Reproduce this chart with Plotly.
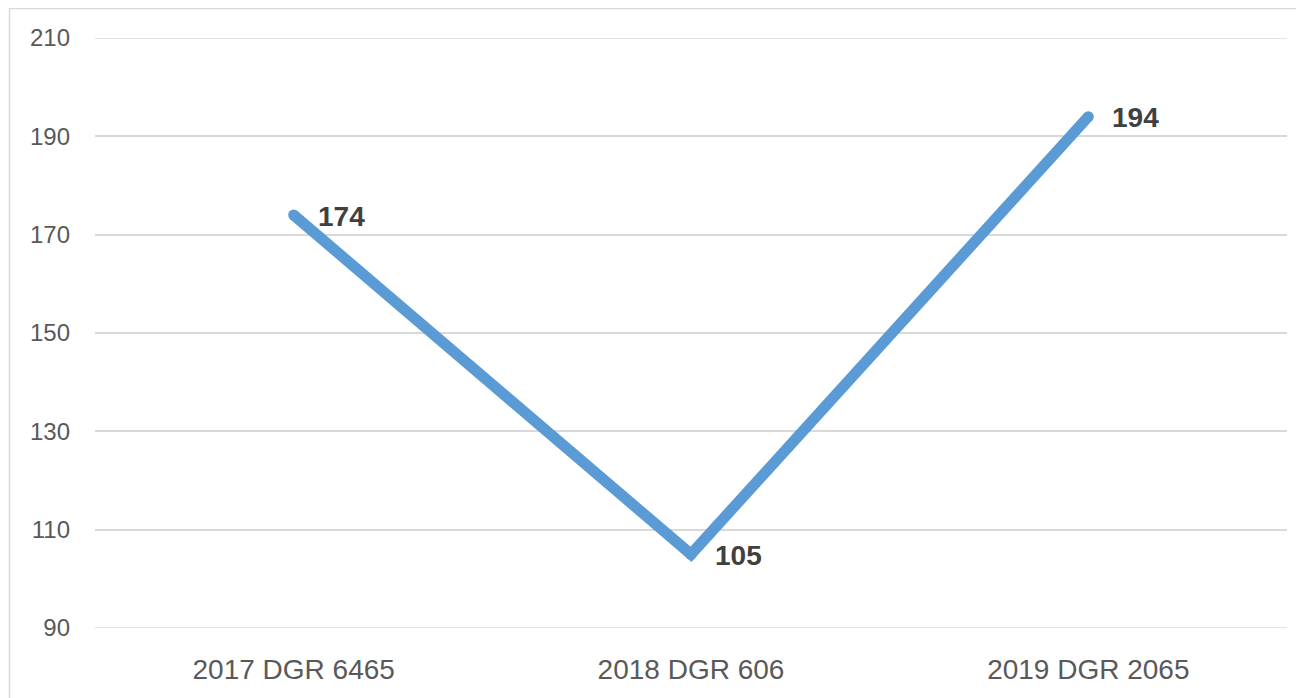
import plotly.graph_objects as go

categories = ["2017 DGR 6465", "2018 DGR 606", "2019 DGR 2065"]
values = [174, 105, 194]
y_ticks = [90, 110, 130, 150, 170, 190, 210]

LINE_COLOR = "#5B9BD5"
GRID = "#D9D9D9"
FONT = "Liberation Sans"

fig = go.Figure()
fig.add_trace(go.Scatter(
    x=categories, y=values, mode="lines+markers",
    line=dict(color=LINE_COLOR, width=11),
    marker=dict(color=LINE_COLOR, size=11),
    hoverinfo="skip", showlegend=False,
))

for c, v in zip(categories, values):
    fig.add_annotation(
        x=c, y=v, text=f"<b>{v}</b>", showarrow=False,
        xanchor="left", yanchor="middle", xshift=22, yshift=-1,
        font=dict(family=FONT, size=28, color="#404040"),
    )

# page has an 8px body margin, so the figure is slightly smaller
W, H = 1296, 690
L, R, T, B = 87, 17, 30, 70
pw, ph = W - L - R, H - T - B
fig.add_shape(
    type="rect", xref="paper", yref="paper",
    x0=(1.5 - L) / pw, x1=1.2, y0=-0.3, y1=(H - B - 0.5) / ph,
    line=dict(color=GRID, width=1.5), fillcolor="rgba(0,0,0,0)", layer="below",
)
# gridlines at the ends of the range (plotly skips them at the edges)
for yv in (y_ticks[0], y_ticks[-1]):
    fig.add_shape(
        type="line", xref="paper", yref="y", x0=0, x1=1, y0=yv, y1=yv,
        line=dict(color=GRID, width=1.5), layer="below",
    )

fig.update_layout(
    width=W, height=H,
    margin=dict(l=L, r=R, t=T, b=B),
    paper_bgcolor="white", plot_bgcolor="white",
    font=dict(family=FONT),
    xaxis=dict(
        type="category", range=[-0.5, 2.5], showgrid=False, zeroline=False,
        showline=False, ticks="", ticklabelstandoff=22,
        tickfont=dict(family=FONT, size=28, color="#595959"),
    ),
    yaxis=dict(
        range=[90, 210], tickvals=y_ticks, showgrid=True, gridcolor=GRID,
        gridwidth=1.5, zeroline=False, showline=False, ticks="",
        ticklabelstandoff=24,
        tickfont=dict(family=FONT, size=24, color="#595959"),
    ),
)

fig.write_html("out.html")
